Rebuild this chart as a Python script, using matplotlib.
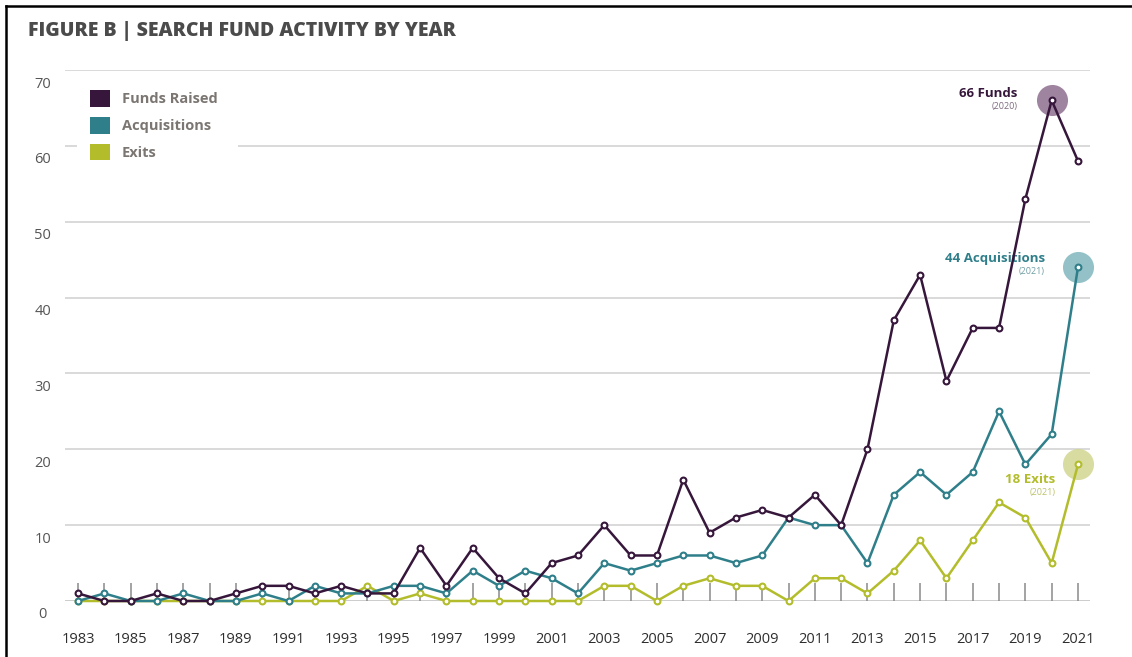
import numpy as np
import matplotlib.pyplot as plt
from matplotlib.lines import Line2D
from matplotlib.patches import Patch, Rectangle
from matplotlib.transforms import ScaledTranslation

plt.rcParams.update({'font.family': ['Open Sans', 'DejaVu Sans']})

# данные по годам
years = np.arange(1983, 2022)
funds = [1, 0, 0, 1, 0, 0, 1, 2, 2, 1, 2, 1, 1, 7, 2, 7, 3, 1, 5, 6,
         10, 6, 6, 16, 9, 11, 12, 11, 14, 10, 20, 37, 43, 29, 36, 36, 53, 66, 58]
acquisitions = [0, 1, 0, 0, 1, 0, 0, 1, 0, 2, 1, 1, 2, 2, 1, 4, 2, 4, 3, 1,
                5, 4, 5, 6, 6, 5, 6, 11, 10, 10, 5, 14, 17, 14, 17, 25, 18, 22, 44]
exits = [0, 0, 0, 0, 0, 0, 0, 0, 0, 0, 0, 2, 0, 1, 0, 0, 0, 0, 0, 0,
         2, 2, 0, 2, 3, 2, 2, 0, 3, 3, 1, 4, 8, 3, 8, 13, 11, 5, 18]
labels = ['Funds Raised', 'Acquisitions', 'Exits']
colors = ['#36173b', '#2f7f8a', '#b3bd2c']
halo = ['#8e6e90', '#80b7be', '#d2d68f']

W, H = 1132, 657
fig = plt.figure(figsize=(W / 100, H / 100), dpi=100)
ax = fig.add_axes([65 / W, 1 - 601 / H, (1090 - 65) / W, (601 - 70) / H])
ax.set_xlim(1982.506, 2021.456)
ax.set_ylim(0, 70)

# сетка
for v in range(10, 80, 10):
    ax.axhline(v, color='#cfcfcf', lw=1.1, zorder=0)
ax.axhline(0, color='#c8c8c8', lw=1.3, zorder=0)

series = [funds, acquisitions, exits]
for s, c, z in zip(series, colors, [5, 4, 3]):
    ax.plot(years, s, color=c, lw=1.8, marker='o', ms=4.2, mfc='white',
            mec=c, mew=1.5, zorder=z, clip_on=False)

# выделенные точки
hl = [(2020, funds[-2], 0), (2021, acquisitions[-1], 1), (2021, exits[-1], 2)]
for x, y, i in hl:
    ax.scatter([x], [y], s=500, color=halo[i], alpha=0.85, zorder=2,
               lw=0, clip_on=False)

ax.text(2018.7, funds[-2] + 0.9, f'{funds[-2]} Funds', color=colors[0],
        fontsize=9.5, fontweight='bold', ha='right', va='center')
ax.text(2018.7, funds[-2] - 0.8, '(2020)', color='#7d6a7f',
        fontsize=6.5, ha='right', va='center')
ax.text(2019.75, acquisitions[-1] + 1.2, f'{acquisitions[-1]} Acquisitions',
        color=colors[1], fontsize=9.5, fontweight='bold', ha='right', va='center')
ax.text(2019.75, acquisitions[-1] - 0.6, '(2021)', color='#6f9ea4',
        fontsize=6.5, ha='right', va='center')
ax.text(2020.15, exits[-1] - 2.0, f'{exits[-1]} Exits', color=colors[2],
        fontsize=9.5, fontweight='bold', ha='right', va='center')
ax.text(2020.15, exits[-1] - 3.7, '(2021)', color='#bcc26a',
        fontsize=6.5, ha='right', va='center')

# оси
for sp in ax.spines.values():
    sp.set_visible(False)
ax.set_xticks(years, minor=True)
ax.set_xticks(years[::2])
ax.set_xticklabels([str(y) for y in years[::2]])
ax.tick_params(axis='x', which='both', direction='in', length=13, width=1.1,
               color='#8a8a8a', labelsize=10.5, labelcolor='#2e2e2e', pad=22)
ax.set_yticks(range(0, 80, 10))
ax.tick_params(axis='y', length=0, labelsize=10.5, labelcolor='#555555', pad=16)
shift = ScaledTranslation(0, -0.12, fig.dpi_scale_trans)
for t in ax.get_yticklabels():
    t.set_horizontalalignment('center')
    t.set_transform(t.get_transform() + shift)

# белая подложка под легендой
ax.add_patch(Rectangle((12 / 1025, (601 - 170) / 531), (238 - 77) / 1025, 92 / 531,
                       transform=ax.transAxes, facecolor='white', edgecolor='none',
                       zorder=1))
handles = [Patch(facecolor=c, edgecolor='none') for c in colors]
leg = ax.legend(handles, labels, loc='upper left', bbox_to_anchor=(21 / 1025, 1 - 16 / 531),
                frameon=False, handlelength=1.35, handleheight=1.35,
                handletextpad=0.8, labelspacing=0.72, borderpad=0.3,
                prop={'size': 10.5, 'weight': 'bold'}, borderaxespad=0)
for t in leg.get_texts():
    t.set_color('#7b7672')
leg.set_zorder(6)

fig.text(28 / W, 1 - 31 / H, 'FIGURE B | SEARCH FUND ACTIVITY BY YEAR',
         fontsize=14, fontweight='heavy', color='#4b4b4b', va='center', ha='left')

# рамка
fig.add_artist(Line2D([6 / W, 1], [1 - 6 / H, 1 - 6 / H], color='black', lw=1.8))
fig.add_artist(Line2D([6 / W, 6 / W], [0, 1 - 6 / H], color='black', lw=1.8))

plt.savefig('out.png', dpi=100)
